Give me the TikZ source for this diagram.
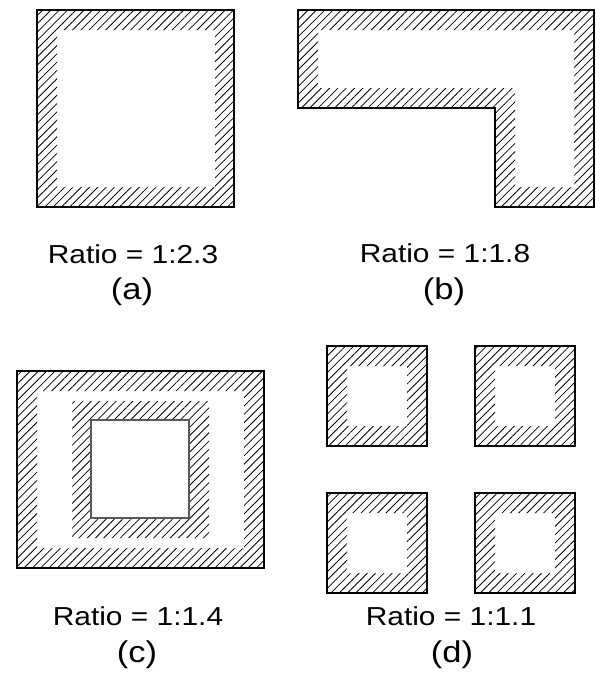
\documentclass[tikz,border=0pt]{standalone}
\usepackage{fontspec}
\setmainfont{Liberation Sans}
\newfontfamily\widesans[FakeStretch=1.15]{Liberation Sans}
\usetikzlibrary{patterns.meta, positioning}
\tikzset{
  wall/.style={draw=black, line width=1.5pt},
  hatch/.style={pattern={Lines[angle=45, distance=4.4pt, line width=0.6pt]}, pattern color=black},
  core/.style={draw=black!65, line width=0.9pt, fill=white},
  ratiotext/.style={font=\widesans\fontsize{19.5}{23}\selectfont, anchor=base},
  tagtext/.style={font=\widesans\fontsize{22.5}{27}\selectfont, anchor=base}
}

\begin{document}
\begin{tikzpicture}[x=0.75pt, y=-0.75pt]
  \useasboundingbox (0,0) rectangle (596,675);

  % (a) square section
  \path[hatch, even odd rule] (37,10) rectangle (234,207) (57,30) rectangle (215,187);
  \draw[wall] (37,10) rectangle (234,207);
  \node[ratiotext] (ratioa) at (133,263) {Ratio = 1:2.3};
  \node[tagtext] (taga) at (132,299) {(a)};

  % (b) L section
  \path[hatch, even odd rule]
    (298,10) -- (594,10) -- (594,207) -- (495,207) -- (495,108) -- (298,108) -- cycle
    (318,30) -- (574,30) -- (574,187) -- (515,187) -- (515,88) -- (318,88) -- cycle;
  \draw[wall] (298,10) -- (594,10) -- (594,207) -- (495,207) -- (495,108) -- (298,108) -- cycle;
  \node[ratiotext] (ratiob) at (445,262) {Ratio = 1:1.8};
  \node[tagtext] (tagb) at (444,299) {(b)};

  % (c) box with core
  \path[hatch, even odd rule] (17,371) rectangle (264,568) (37,391) rectangle (244,548);
  \path[hatch, even odd rule] (72,401) rectangle (209,538) (91,420) rectangle (189,518);
  \draw[wall] (17,371) rectangle (264,568);
  \draw[core] (91,420) rectangle (189,518);
  \node[ratiotext] (ratioc) at (138,625) {Ratio = 1:1.4};
  \node[tagtext] (tagc) at (137,662) {(c)};

  % (d) four small squares
  \foreach \x in {327,475} {
    \foreach \y in {346,493} {
      \path[hatch, even odd rule] (\x,\y) rectangle ++(100,100) (\x+20,\y+20) rectangle ++(60,60);
      \draw[wall] (\x,\y) rectangle ++(100,100);
    }
  }
  \node[ratiotext] (ratiod) at (451,625) {Ratio = 1:1.1};
  \node[tagtext] (tagd) at (452,662) {(d)};
\end{tikzpicture}
\end{document}
